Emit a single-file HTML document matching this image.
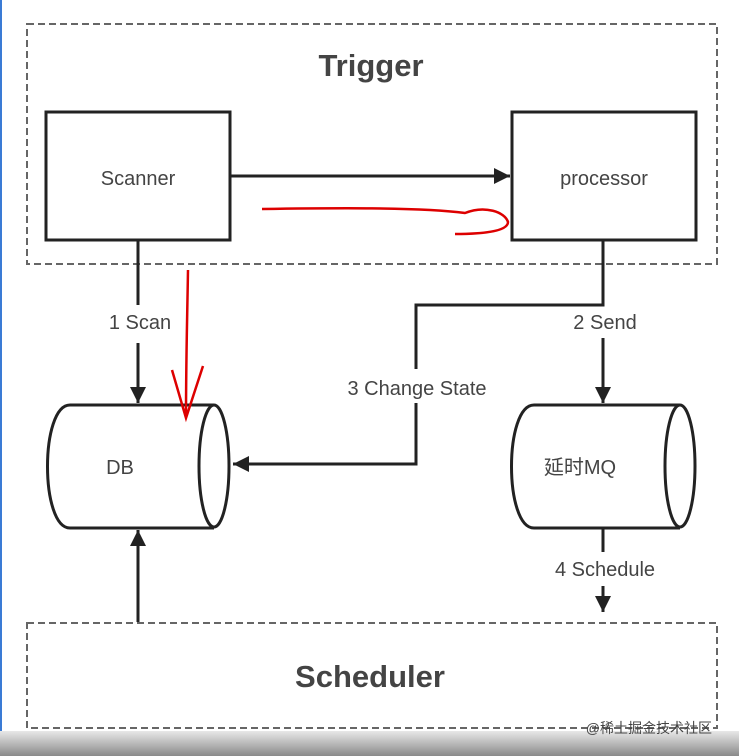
<!DOCTYPE html>
<html><head><meta charset="utf-8"><style>
html,body{margin:0;padding:0;background:#fff;}
svg{display:block}
text{font-family:"Liberation Sans","Noto Sans CJK SC",sans-serif;fill:#444}
</style></head><body>
<svg width="739" height="756" viewBox="0 0 739 756" xmlns="http://www.w3.org/2000/svg">
<defs>
<marker id="b" viewBox="0 0 10 10" markerWidth="16" markerHeight="22" refX="10" refY="5" orient="auto" markerUnits="userSpaceOnUse"><path d="M0,0 L10,5 L0,10 Z" fill="#222"/></marker></defs>
<rect x="0" y="0" width="2" height="756" fill="#3a7bd5"/>
<rect x="27" y="24" width="690" height="240" fill="none" stroke="#666" stroke-width="2" stroke-dasharray="7,4"/>
<text x="371" y="76" font-size="31" text-anchor="middle" font-weight="bold" fill="#222">Trigger</text>
<rect x="46" y="112" width="184" height="128" fill="#fff" stroke="#222" stroke-width="3"/>
<text x="138" y="185" font-size="20" text-anchor="middle">Scanner</text>
<rect x="512" y="112" width="184" height="128" fill="#fff" stroke="#222" stroke-width="3"/>
<text x="604" y="185" font-size="20" text-anchor="middle">processor</text>
<line x1="230" y1="176" x2="510" y2="176" stroke="#222" stroke-width="3" marker-end="url(#b)"/>
<path d="M262,209 C330,208 420,207 465,213 C485,205 505,212 508,222 C508,232 480,234 455,234" fill="none" stroke="#d00" stroke-width="2.5"/>
<!-- scanner down -->
<line x1="138" y1="240" x2="138" y2="305" stroke="#222" stroke-width="3"/>
<text x="140" y="329" font-size="20" text-anchor="middle">1 Scan</text>
<line x1="138" y1="343" x2="138" y2="403" stroke="#222" stroke-width="3" marker-end="url(#b)"/>
<!-- processor down -->
<polyline points="603,240 603,305 416,305 416,369" fill="none" stroke="#222" stroke-width="3"/>
<text x="605" y="329" font-size="20" text-anchor="middle">2 Send</text>
<line x1="603" y1="338" x2="603" y2="403" stroke="#222" stroke-width="3" marker-end="url(#b)"/>
<text x="417" y="395" font-size="20" text-anchor="middle">3 Change State</text>
<polyline points="416,403 416,464 233,464" fill="none" stroke="#222" stroke-width="3" marker-end="url(#b)"/>
<!-- DB -->
<path d="M214,405 L70,405 C40,405 40,528 70,528 L214,528" fill="#fff" stroke="#222" stroke-width="3"/>
<ellipse cx="214" cy="466" rx="15" ry="61" fill="#fff" stroke="#222" stroke-width="3"/>
<text x="120" y="474" font-size="20" text-anchor="middle">DB</text>
<path d="M188,270 C187,330 186,360 186,418 M172,370 L186,418 L203,366" fill="none" stroke="#d00" stroke-width="2.5"/>
<!-- MQ -->
<path d="M680,405 L534,405 C504,405 504,528 534,528 L680,528" fill="#fff" stroke="#222" stroke-width="3"/>
<ellipse cx="680" cy="466" rx="15" ry="61" fill="#fff" stroke="#222" stroke-width="3"/>
<text x="580" y="474" font-size="20" text-anchor="middle">延时MQ</text>
<line x1="603" y1="528" x2="603" y2="552" stroke="#222" stroke-width="3"/>
<text x="605" y="576" font-size="20" text-anchor="middle">4 Schedule</text>
<line x1="603" y1="586" x2="603" y2="612" stroke="#222" stroke-width="3" marker-end="url(#b)"/>
<line x1="138" y1="622" x2="138" y2="530" stroke="#222" stroke-width="3" marker-end="url(#b)"/>
<rect x="27" y="623" width="690" height="105" fill="none" stroke="#666" stroke-width="2" stroke-dasharray="7,4"/>
<text x="370" y="687" font-size="31" text-anchor="middle" font-weight="bold" fill="#222">Scheduler</text>
<defs><linearGradient id="g" x1="0" y1="0" x2="0" y2="1"><stop offset="0" stop-color="#e8e8e8"/><stop offset="1" stop-color="#8a8a8a"/></linearGradient></defs>
<rect x="0" y="731" width="739" height="25" fill="url(#g)"/>
<text x="712" y="733" font-size="14" text-anchor="end" fill="#888">@稀土掘金技术社区</text>
</svg>
</body></html>
